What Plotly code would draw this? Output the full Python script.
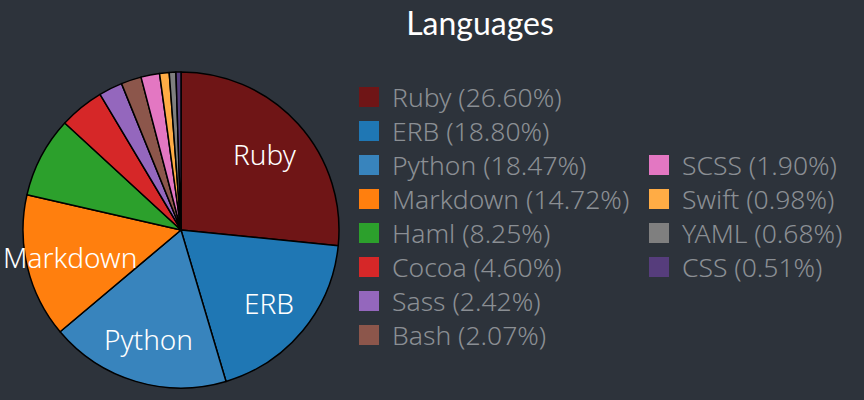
import math
import plotly.graph_objects as go

labels = ["Ruby", "ERB", "Python", "Markdown", "Haml", "Cocoa", "Sass", "Bash",
          "SCSS", "Swift", "YAML", "CSS"]
values = [26.60, 18.80, 18.47, 14.72, 8.25, 4.60, 2.42, 2.07, 1.90, 0.98, 0.68, 0.51]
colors = ["#6f1516", "#1f77b4", "#3884bd", "#ff7f0e", "#2ca02c", "#d62728",
          "#9467bd", "#8c564b", "#e377c2", "#ffac45", "#7f7f7f", "#563d7c"]
shown_labels = ["Ruby", "ERB", "Python", "Markdown"]

W, H = 864, 400
BG = "#2d333b"
FONT = "Noto Sans"

# pie placement (pixels)
PCX, PCY, PR = 181, 230, 158
dom_x = [(PCX - PR) / W, (PCX + PR) / W]
dom_y = [1 - (PCY + PR) / H, 1 - (PCY - PR) / H]

fig = go.Figure()
fig.add_trace(go.Pie(
    labels=labels,
    values=values,
    textinfo="none",
    marker=dict(colors=colors, line=dict(color="black", width=1.5)),
    sort=False,
    direction="clockwise",
    rotation=0,
    showlegend=False,
    hoverinfo="label+percent",
    domain=dict(x=dom_x, y=dom_y),
))

annotations = []
shapes = []

# slice labels, placed along each slice's mid-angle (derived from the data)
total = sum(values)
cum = 0.0
for lab, val in zip(labels, values):
    mid = (cum + val / 2) / total * 2 * math.pi
    cum += val
    if lab not in shown_labels:
        continue
    px = PCX + 0.72 * PR * math.sin(mid)
    py = PCY - 0.72 * PR * math.cos(mid)
    annotations.append(dict(xref="paper", yref="paper", x=px / W, y=1 - py / H,
                            xanchor="center", yanchor="middle", showarrow=False,
                            text=lab,
                            font=dict(family=FONT, size=28, color="white", weight=300)))

# manual two-column legend (8 rows in first column, remaining centred in second)
col_x = [359, 649]
row_y0 = 97
row_dy = 34.0
n_first = 8
n_rest = len(labels) - n_first
offset_rows = (n_first - n_rest) // 2
for i, (lab, val, col) in enumerate(zip(labels, values, colors)):
    if i < n_first:
        c, r = 0, i
    else:
        c, r = 1, i - n_first + offset_rows
    x0 = col_x[c]
    yc = row_y0 + r * row_dy
    shapes.append(dict(type="rect", xref="paper", yref="paper",
                       x0=x0 / W, x1=(x0 + 20) / W,
                       y0=1 - (yc + 10) / H, y1=1 - (yc - 10) / H,
                       fillcolor=col, line=dict(width=0)))
    annotations.append(dict(xref="paper", yref="paper", x=(x0 + 31) / W, y=1 - yc / H,
                            xanchor="left", yanchor="middle", showarrow=False,
                            text=f"{lab} ({val:.2f}%)",
                            font=dict(family=FONT, size=26.5, color="#8b8f94", weight=300)))

fig.update_layout(
    width=W, height=H,
    paper_bgcolor=BG, plot_bgcolor=BG,
    margin=dict(l=0, r=0, t=0, b=0),
    title=dict(text="Languages", x=480 / W, xanchor="center", y=1 - 24 / H,
               yanchor="middle", yref="container",
               font=dict(family="Lato", size=32, color="white")),
    shapes=shapes,
    annotations=annotations,
)

fig.write_html("out.html")
